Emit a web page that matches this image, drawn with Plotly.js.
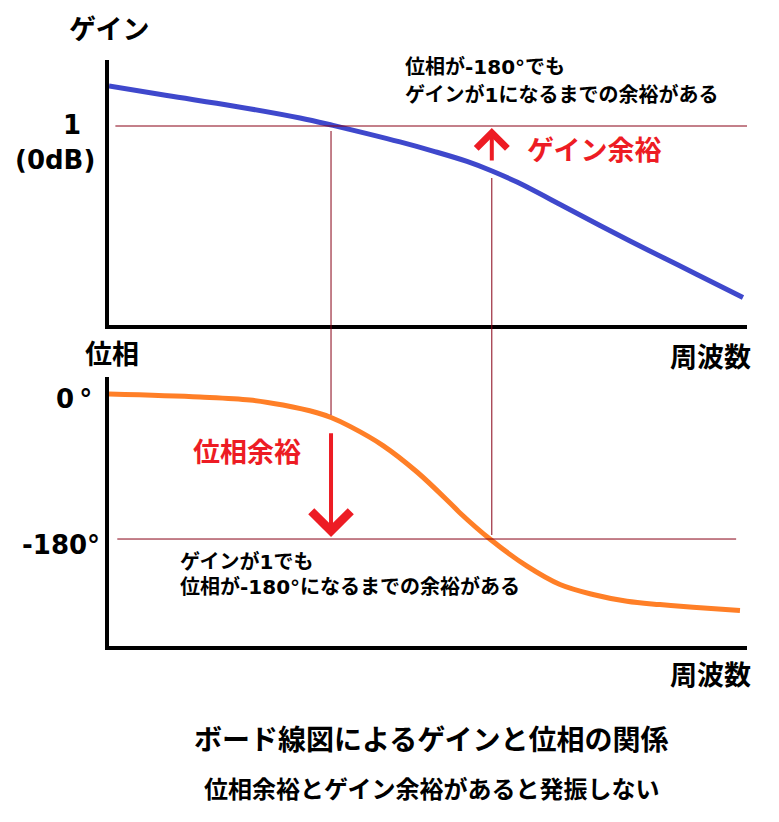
<!DOCTYPE html>
<html>
<head>
<meta charset="utf-8">
<script src="https://cdn.plot.ly/plotly-3.0.1.min.js"></script>
<style>html,body{margin:0;padding:0;background:#fff;}</style>
</head>
<body>
<div id="chart" style="width:779px;height:822px;"></div>
<script>
// Gain curve (linear gain, 1 = 0 dB) vs. frequency (arbitrary units)
const freqGain = [0, 0.909, 1.944, 2.994, 3.511, 4.044, 4.561, 5.078, 5.611, 6.003, 6.395, 7.116, 7.696, 8.166, 8.715, 9.216, 9.937];
const gain     = [1.201, 1.153, 1.101, 1.040, 1.003, 0.962, 0.920, 0.874, 0.822, 0.774, 0.718, 0.598, 0.500, 0.422, 0.334, 0.254, 0.138];
// Phase curve (degrees) vs. frequency
const freqPhase = [0, 1.426, 2.21, 2.727, 3.26, 3.48, 3.777, 4.295, 4.828, 5.345, 5.502, 5.97, 6.552, 7.069, 7.586, 8.119, 8.636, 9.154, 9.89];
const phase     = [0, -3.7, -7.4, -13.7, -23.3, -29.2, -40.2, -64.0, -96.8, -135.3, -147.7, -180, -213.7, -236.5, -248.9, -257.3, -261.4, -264.7, -268.8];
// Reference values
const unityGain = 1;           // 0 dB
const criticalPhase = -180;    // degrees
const gainCrossFreq = 3.48;    // frequency where gain = 1
const phaseCrossFreq = 6.0;    // frequency where phase = -180°
const gainAtPhaseCross = 0.819;
const phaseAtGainCross = -47;
// Texts
const gainLabel = 'ゲイン';
const phaseLabel = '位相';
const freqLabel = '周波数';
const gainTick1 = '1';
const gainTick2 = '(0dB)';
const phaseTick0 = '0\u2009°';
const phaseTick180 = '-180°';
const gainMarginLabel = 'ゲイン余裕';
const phaseMarginLabel = '位相余裕';
const gainNote = ['位相が-180°でも', 'ゲインが1になるまでの余裕がある'];
const phaseNote = ['ゲインが1でも', '位相が-180°になるまでの余裕がある'];
const titleText = 'ボード線図によるゲインと位相の関係';
const subtitleText = '位相余裕とゲイン余裕があると発振しない';

const W = 779, H = 822;
const px = x => x / W;
const py = y => (H - y) / H;
const FONT = 'DejaVu Sans, Noto Sans CJK JP, sans-serif';
const RED = '#ED1C24', DARKRED = '#880015';

const axisStyle = {showline: true, linecolor: '#000', linewidth: 4, showgrid: false, zeroline: false,
  showticklabels: false, ticks: '', fixedrange: true};

const traces = [
  {x: freqGain, y: gain, xaxis: 'x', yaxis: 'y', mode: 'lines', line: {color: '#3F48CC', width: 5, shape: 'spline', smoothing: 1}, hoverinfo: 'skip'},
  {x: freqPhase, y: phase, xaxis: 'x2', yaxis: 'y2', mode: 'lines', line: {color: '#FF7F27', width: 5, shape: 'spline', smoothing: 1}, hoverinfo: 'skip'}
];

function txt(text, x, y, size, opts) {
  return Object.assign({text: text, xref: 'paper', yref: 'paper', x: px(x), y: py(y), showarrow: false,
    xanchor: 'center', yanchor: 'middle', font: {family: FONT, size: size, color: '#000', weight: 'bold'}}, opts || {});
}
const noteFont = {family: FONT, size: 20, color: '#000', weight: 'bold'};

const annotations = [
  txt(gainLabel, 109, 30, 27),
  txt(gainTick1, 72, 125, 26),
  txt(gainTick2, 55, 160, 26),
  txt(freqLabel, 710, 357, 27),
  txt(phaseLabel, 112, 354, 27),
  txt(phaseTick0, 74, 399, 26),
  txt(phaseTick180, 61, 545, 26),
  txt(freqLabel, 710, 675, 27),
  txt(gainNote[0], 403, 67, 20, {xanchor: 'left', font: noteFont}),
  txt(gainNote[1], 403, 95, 20, {xanchor: 'left', font: noteFont}),
  txt(phaseNote[0], 178, 562, 20, {xanchor: 'left', font: noteFont}),
  txt(phaseNote[1], 178, 587, 20, {xanchor: 'left', font: noteFont}),
  txt(gainMarginLabel, 594, 150, 27, {font: {family: FONT, size: 27, color: RED, weight: 'bold'}}),
  txt(phaseMarginLabel, 247, 452, 27, {font: {family: FONT, size: 27, color: RED, weight: 'bold'}}),
  txt(titleText, 431, 740, 28),
  txt(subtitleText, 432, 790, 24),
  // gain margin arrow (up)
  {xref: 'x', yref: 'y', axref: 'x', ayref: 'y', x: phaseCrossFreq, y: unityGain - 0.01, ax: phaseCrossFreq, ay: gainAtPhaseCross,
   text: '', showarrow: true, arrowhead: 4, arrowsize: 1.5, arrowwidth: 4, arrowcolor: RED, standoff: 0},
  // phase margin arrow (down)
  {xref: 'x2', yref: 'y2', axref: 'x2', ayref: 'y2', x: gainCrossFreq, y: criticalPhase + 2.5, ax: gainCrossFreq, ay: phaseAtGainCross,
   text: '', showarrow: true, arrowhead: 4, arrowsize: 1.9, arrowwidth: 4, arrowcolor: RED, standoff: 0}
];

const shapes = [
  {type: 'line', xref: 'x', yref: 'y', x0: 0.1, x1: 10, y0: unityGain, y1: unityGain, line: {color: DARKRED, width: 1}},
  {type: 'line', xref: 'x2', yref: 'y2', x0: 0.13, x1: 9.83, y0: criticalPhase, y1: criticalPhase, line: {color: DARKRED, width: 1}},
  {type: 'line', xref: 'x', yref: 'paper', x0: gainCrossFreq, x1: gainCrossFreq, y0: py(131), y1: py(415), line: {color: DARKRED, width: 1}},
  {type: 'line', xref: 'x', yref: 'paper', x0: phaseCrossFreq, x1: phaseCrossFreq, y0: py(178), y1: py(535), line: {color: DARKRED, width: 1}}
];

const layout = {
  width: W, height: H, autosize: false,
  margin: {l: 0, r: 0, t: 0, b: 0},
  paper_bgcolor: '#fff', plot_bgcolor: 'rgba(0,0,0,0)',
  showlegend: false,
  xaxis: Object.assign({}, axisStyle, {domain: [px(109), px(747)], range: [0, 10], anchor: 'y'}),
  yaxis: Object.assign({}, axisStyle, {domain: [py(325), py(60)], range: [0, 1.3317], anchor: 'x'}),
  xaxis2: Object.assign({}, axisStyle, {domain: [px(109), px(747)], range: [0, 10], anchor: 'y2'}),
  yaxis2: Object.assign({}, axisStyle, {domain: [py(645.7), py(377)], range: [-312.4, 21.1], anchor: 'x2'}),
  annotations: annotations,
  shapes: shapes
};

Plotly.newPlot('chart', traces, layout, {staticPlot: true, displayModeBar: false});
</script>
</body>
</html>
